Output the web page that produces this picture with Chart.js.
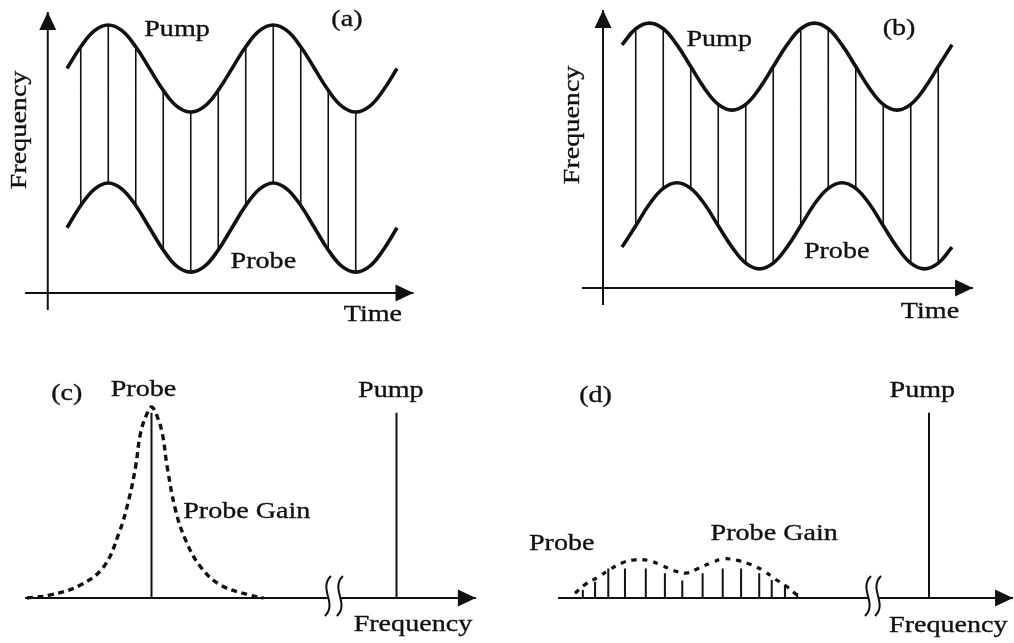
<!DOCTYPE html>
<html>
<head>
<meta charset="utf-8">
<title>Pump / probe frequency modulation</title>
<script src="https://cdn.jsdelivr.net/npm/chart.js@4"></script>
<style>
  html, body { margin: 0; padding: 0; background: #fff; }
  body { width: 1014px; height: 643px; position: relative; overflow: hidden; }
  .panel { position: absolute; }
  #boxA { left: 0; top: 0; width: 460px; height: 340px; }
  #boxB { left: 555px; top: -5px; width: 460px; height: 340px; }
  #boxC { left: 0; top: 340px; width: 507px; height: 303px; }
  #boxD { left: 507px; top: 340px; width: 507px; height: 303px; }
</style>
</head>
<body>
<div class="panel" id="boxA"><canvas id="panelA"></canvas></div>
<div class="panel" id="boxB"><canvas id="panelB"></canvas></div>
<div class="panel" id="boxC"><canvas id="panelC"></canvas></div>
<div class="panel" id="boxD"><canvas id="panelD"></canvas></div>

<script>
// values
// (a), (b): time in twelfths of one modulation period, frequency in arbitrary units
const timeSteps = [0, 1, 2, 3, 4, 5, 6, 7, 8, 9, 10, 11, 12, 13, 14, 15, 16, 17, 18, 19, 20, 21, 22, 23, 24];
const pumpA  = [5.16, 5.66, 6.03, 6.16, 6.03, 5.66, 5.16, 4.66, 4.29, 4.16, 4.29, 4.66, 5.16, 5.66, 6.03, 6.16, 6.03, 5.66, 5.16, 4.66, 4.29, 4.16, 4.29, 4.66, 5.16];
const probeA = [1.50, 2.01, 2.39, 2.53, 2.39, 2.01, 1.50, 0.99, 0.61, 0.48, 0.61, 0.99, 1.50, 2.01, 2.39, 2.53, 2.39, 2.01, 1.50, 0.99, 0.61, 0.48, 0.61, 0.99, 1.50];
const pumpB  = [5.59, 5.96, 6.09, 5.96, 5.59, 5.09, 4.59, 4.22, 4.09, 4.22, 4.59, 5.09, 5.59, 5.96, 6.09, 5.96, 5.59, 5.09, 4.59, 4.22, 4.09, 4.22, 4.59, 5.09, 5.59];
const probeB = [0.94, 1.43, 1.93, 2.29, 2.42, 2.29, 1.93, 1.43, 0.94, 0.57, 0.44, 0.57, 0.94, 1.43, 1.93, 2.29, 2.42, 2.29, 1.93, 1.43, 0.94, 0.57, 0.44, 0.57, 0.94];
const tieStepsA = [1, 3, 5, 7, 9, 11, 13, 15, 17, 19, 21];
const tieStepsB = [1, 3, 5, 7, 9, 11, 13, 15, 17, 19, 21, 23];

// (c), (d): frequency offset from the probe, gain normalised to the peak
const gainOffset = [-5.08, -4.12, -2.9, -1.95, -1.33, -0.93, -0.65, -0.45, -0.2, 0, 0.2, 0.44, 0.64, 0.98, 1.39, 2.0, 2.82, 3.98, 4.57];
const gainLevel  = [0, 0.016, 0.068, 0.164, 0.339, 0.513, 0.687, 0.862, 0.96, 1.0, 0.96, 0.862, 0.687, 0.461, 0.304, 0.164, 0.068, 0.016, 0];
const combOffset = [-4.13, -3.63, -3.09, -2.41, -1.56, -0.78, -0.07, 0.76, 1.58, 2.33, 3.07, 3.58, 4.12, 4.62];
const combLevel  = [0.042, 0.085, 0.155, 0.155, 0.155, 0.129, 0.091, 0.129, 0.155, 0.155, 0.129, 0.094, 0.063, 0.025];
const envOffset  = [-4.45, -4.04, -3.5, -3.02, -2.54, -2.0, -1.48, -0.98, -0.44, 0.08, 0.58, 1.13, 1.6, 2.19, 2.73, 3.24, 3.71, 4.19, 4.62];
const envLevel   = [0.025, 0.07, 0.11, 0.15, 0.183, 0.2, 0.197, 0.175, 0.145, 0.13, 0.155, 0.185, 0.205, 0.197, 0.175, 0.143, 0.1, 0.06, 0.015];
const probeOffset = 0;
const pumpOffset = 10;
const lineLevel = 0.97;

const ink = '#111';
const textFont = '24px "Liberation Serif", "Times New Roman", serif';
const textStretch = 1.17;

// draws the arrowed axes, the axis break and the labels in data coordinates
const diagramPlugin = {
    id: 'diagram',
    beforeDatasetsDraw(chart, args, opts) {
        const ctx = chart.ctx;
        const xs = chart.scales.x, ys = chart.scales.y;
        ctx.save();
        ctx.strokeStyle = ink;
        ctx.fillStyle = ink;
        ctx.lineWidth = 2;
        (opts.axes || []).forEach(a => {
            const x1 = xs.getPixelForValue(a.from[0]), y1 = ys.getPixelForValue(a.from[1]);
            const x2 = xs.getPixelForValue(a.to[0]), y2 = ys.getPixelForValue(a.to[1]);
            ctx.beginPath();
            ctx.moveTo(x1, y1);
            ctx.lineTo(x2, y2);
            ctx.stroke();
            if (a.arrow) {
                ctx.save();
                ctx.translate(x2, y2);
                ctx.rotate(Math.atan2(y2 - y1, x2 - x1));
                ctx.beginPath();
                ctx.moveTo(0, 0);
                ctx.lineTo(-18, -8.5);
                ctx.lineTo(-18, 8.5);
                ctx.closePath();
                ctx.fill();
                ctx.restore();
            }
        });
        (opts.breaks || []).forEach(b => {
            const cx = xs.getPixelForValue(b);
            const cy = ys.getPixelForValue(0) - 2;
            ctx.beginPath();
            ctx.moveTo(cx + 3, cy - 20);
            ctx.bezierCurveTo(cx - 10, cy - 7, cx + 10, cy + 7, cx - 3, cy + 20);
            ctx.stroke();
        });
        ctx.restore();
    },
    afterDatasetsDraw(chart, args, opts) {
        const ctx = chart.ctx;
        const xs = chart.scales.x, ys = chart.scales.y;
        ctx.save();
        ctx.fillStyle = ink;
        ctx.strokeStyle = ink;
        ctx.lineWidth = 0.35;
        ctx.font = textFont;
        ctx.textAlign = 'center';
        ctx.textBaseline = 'alphabetic';
        (opts.labels || []).forEach(l => {
            ctx.save();
            ctx.translate(xs.getPixelForValue(l.x), ys.getPixelForValue(l.y));
            if (l.rotate) ctx.rotate(-Math.PI / 2);
            ctx.scale(textStretch, 1);
            ctx.fillText(l.text, 0, 0);
            ctx.strokeText(l.text, 0, 0);
            ctx.restore();
        });
        ctx.restore();
    }
};

function curve(xs, ys, extra) {
    return Object.assign({
        data: xs.map((x, i) => ({ x: x, y: ys[i] })),
        showLine: true,
        borderColor: ink,
        borderWidth: 3.6,
        pointRadius: 0,
        tension: 0.4,
        fill: false
    }, extra || {});
}

// vertical segments, separated by gaps
function sticks(xs, lows, highs, width) {
    const pts = [];
    xs.forEach((x, i) => {
        pts.push({ x: x, y: lows[i] }, { x: x, y: highs[i] }, { x: x, y: null });
    });
    return {
        data: pts,
        showLine: true,
        spanGaps: false,
        borderColor: ink,
        borderWidth: width,
        pointRadius: 0,
        tension: 0
    };
}

function makeChart(id, datasets, range, diagram) {
    return new Chart(document.getElementById(id).getContext('2d'), {
        type: 'scatter',
        data: { datasets: datasets },
        options: {
            responsive: true,
            maintainAspectRatio: false,
            animation: false,
            events: [],
            layout: { padding: 0 },
            scales: {
                x: { type: 'linear', min: range.x[0], max: range.x[1], display: false },
                y: { type: 'linear', min: range.y[0], max: range.y[1], display: false }
            },
            plugins: {
                legend: { display: false },
                tooltip: { enabled: false },
                diagram: diagram
            }
        },
        plugins: [diagramPlugin]
    });
}

const timeRange = { x: [-4.8727, 28.5818], y: [-1.0805, 6.7356] };
const specRangeC = { x: [-6.1837, 14.5102], y: [-0.2356, 1.3508] };
const specRangeD = { x: [-7.2245, 13.4694], y: [-0.2356, 1.3508] };

// (a) pump and probe swept in phase
makeChart('panelA', [
    curve(timeSteps, pumpA),
    curve(timeSteps, probeA),
    sticks(tieStepsA, tieStepsA.map(k => probeA[k]), tieStepsA.map(k => pumpA[k]), 1.6)
], timeRange, {
    axes: [
        { from: [-3.05, 0], to: [25.2, 0], arrow: true },
        { from: [-1.4, -0.39], to: [-1.4, 6.46], arrow: true }
    ],
    labels: [
        { text: 'Pump', x: 8.0, y: 5.91 },
        { text: '(a)', x: 20.36, y: 6.14 },
        { text: 'Probe', x: 14.28, y: 0.575 },
        { text: 'Time', x: 22.25, y: -0.644 },
        { text: 'Frequency', x: -2.98, y: 3.75, rotate: true }
    ]
});

// (b) probe sweep lagging the pump
makeChart('panelB', [
    curve(timeSteps, pumpB),
    curve(timeSteps, probeB),
    sticks(tieStepsB, tieStepsB.map(k => probeB[k]), tieStepsB.map(k => pumpB[k]), 1.6)
], timeRange, {
    axes: [
        { from: [-2.91, 0], to: [25.53, 0], arrow: true },
        { from: [-1.38, -0.39], to: [-1.38, 6.39], arrow: true }
    ],
    labels: [
        { text: 'Pump', x: 7.07, y: 5.57 },
        { text: '(b)', x: 20.15, y: 5.82 },
        { text: 'Probe', x: 15.61, y: 0.683 },
        { text: 'Time', x: 22.4, y: -0.697 },
        { text: 'Frequency', x: -3.13, y: 3.75, rotate: true }
    ]
});

// (c) single probe line inside the gain curve
makeChart('panelC', [
    curve(gainOffset, gainLevel, { borderWidth: 3.4, borderDash: [6, 4.5] }),
    sticks([probeOffset, pumpOffset], [0, 0], [lineLevel, lineLevel], 2)
], specRangeC, {
    axes: [
        { from: [-5.16, 0], to: [7.2, 0] },
        { from: [7.69, 0], to: [13.24, 0], arrow: true }
    ],
    breaks: [7.2, 7.69],
    labels: [
        { text: '(c)', x: -3.46, y: 1.037 },
        { text: 'Probe', x: -0.33, y: 1.058 },
        { text: 'Pump', x: 9.77, y: 1.054 },
        { text: 'Probe Gain', x: 3.89, y: 0.417 },
        { text: 'Frequency', x: 10.67, y: -0.173 }
    ]
});

// (d) probe spread into a comb under a flattened gain
makeChart('panelD', [
    curve(envOffset, envLevel, { borderWidth: 3.2, borderDash: [5, 6] }),
    sticks(combOffset, combOffset.map(() => 0), combLevel, 2),
    sticks([pumpOffset], [0], [lineLevel], 2)
], specRangeD, {
    axes: [
        { from: [-5.14, 0], to: [7.51, 0] },
        { from: [7.92, 0], to: [13.43, 0], arrow: true }
    ],
    breaks: [7.51, 7.92],
    labels: [
        { text: '(d)', x: -3.61, y: 1.024 },
        { text: 'Pump', x: 9.73, y: 1.054 },
        { text: 'Probe Gain', x: 3.68, y: 0.304 },
        { text: 'Probe', x: -4.99, y: 0.251 },
        { text: 'Frequency', x: 10.79, y: -0.176 }
    ]
});
</script>
</body>
</html>
